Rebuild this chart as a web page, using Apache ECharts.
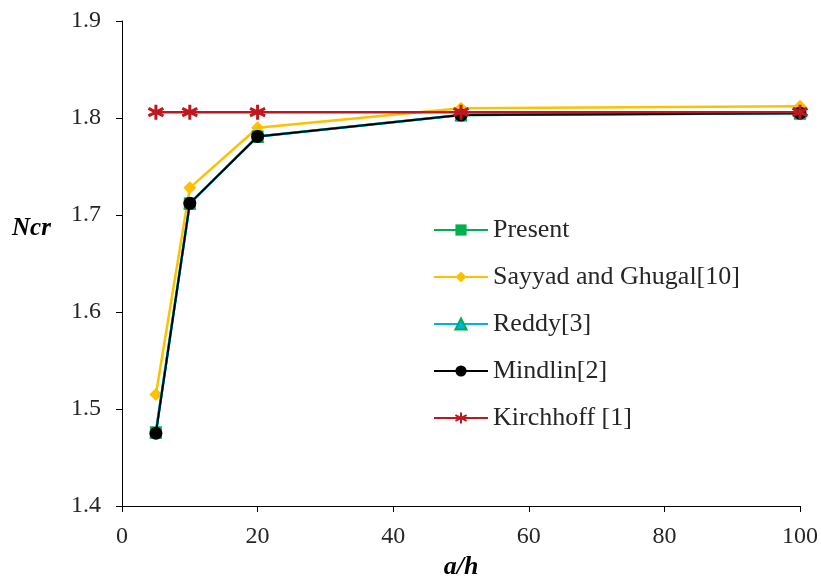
<!DOCTYPE html>
<html><head><meta charset="utf-8">
<script src="https://cdn.jsdelivr.net/npm/echarts@6/dist/echarts.min.js"></script>
<style>html,body{margin:0;padding:0;background:#fff}#c{width:821px;height:576px}</style>
</head><body><div id="c"></div>
<script>
const xValues = [5, 10, 20, 50, 100];
const present = [1.476, 1.712, 1.781, 1.803, 1.805];
const sayyad = [1.515, 1.728, 1.790, 1.810, 1.812];
const reddy = [1.476, 1.712, 1.781, 1.803, 1.805];
const mindlin = [1.475, 1.712, 1.781, 1.803, 1.805];
const kirchhoff = [1.806, 1.806, 1.806, 1.806, 1.806];
const seriesNames = ['Present', 'Sayyad and Ghugal[10]', 'Reddy[3]', 'Mindlin[2]', 'Kirchhoff [1]'];

const pair = arr => xValues.map((x, i) => [x, arr[i]]);
const font = '"Liberation Serif", "Times New Roman", serif';
const chart = echarts.init(document.getElementById('c'));
const asterisk = 'path://M0,-10 L0,10 M-8.66,-5 L8.66,5 M-8.66,5 L8.66,-5';
chart.setOption({
  animation: false,
  grid: {left: 122, right: 21, top: 21, bottom: 70, containLabel: false, outerBoundsMode: 'none'},
  xAxis: {
    type: 'value', min: 0, max: 100, interval: 20,
    name: 'a/h', nameLocation: 'middle', nameGap: 43,
    nameTextStyle: {fontFamily: font, fontSize: 26, fontWeight: 'bold', fontStyle: 'italic', color: '#000'},
    axisLine: {lineStyle: {color: '#000', width: 1}},
    axisTick: {show: true, length: 6, lineStyle: {color: '#000'}},
    axisLabel: {fontFamily: font, fontSize: 24, color: '#262626', margin: 19},
    splitLine: {show: false}
  },
  yAxis: {
    type: 'value', min: 1.4, max: 1.9, interval: 0.1,
    axisLine: {show: true, lineStyle: {color: '#000', width: 1}},
    axisTick: {show: true, length: 6, lineStyle: {color: '#000'}},
    axisLabel: {fontFamily: font, fontSize: 24, color: '#262626', margin: 21, formatter: v => v.toFixed(1)},
    splitLine: {show: false}
  },
  graphic: [{type: 'text', left: 12, top: 216, style: {text: 'Ncr', fontFamily: font, fontSize: 25, fontStyle: 'italic', fontWeight: 'bold', fill: '#000'}}],
  legend: {
    orient: 'vertical', left: 428, top: 212, itemGap: 21, itemWidth: 54, itemHeight: 14,
    textStyle: {fontFamily: font, fontSize: 26, color: '#262626', padding: [0, 0, 0, 0]},
    data: seriesNames
  },
  series: [
    {name: seriesNames[0], type: 'line', data: pair(present), symbol: 'rect', symbolSize: 12,
     lineStyle: {color: '#00b050', width: 2.5}, itemStyle: {color: '#00b050'}, z: 2},
    {name: seriesNames[1], type: 'line', data: pair(sayyad), symbol: 'diamond', symbolSize: 13,
     lineStyle: {color: '#ffc000', width: 2.5}, itemStyle: {color: '#ffc000'}, z: 1},
    {name: seriesNames[2], type: 'line', data: pair(reddy), symbol: 'triangle', symbolSize: 12,
     lineStyle: {color: '#00b0f0', width: 2.5}, itemStyle: {color: '#00b0f0', borderColor: '#00b050', borderWidth: 1}, z: 3},
    {name: seriesNames[3], type: 'line', data: pair(mindlin), symbol: 'circle', symbolSize: 13,
     lineStyle: {color: '#000', width: 2}, itemStyle: {color: '#000'}, z: 4},
    {name: seriesNames[4], type: 'line', data: pair(kirchhoff), symbol: asterisk, symbolSize: 15,
     lineStyle: {color: '#c0171e', width: 2.5}, itemStyle: {color: 'rgba(0,0,0,0)', borderColor: '#c0171e', borderWidth: 3}, z: 5}
  ]
});
</script></body></html>
